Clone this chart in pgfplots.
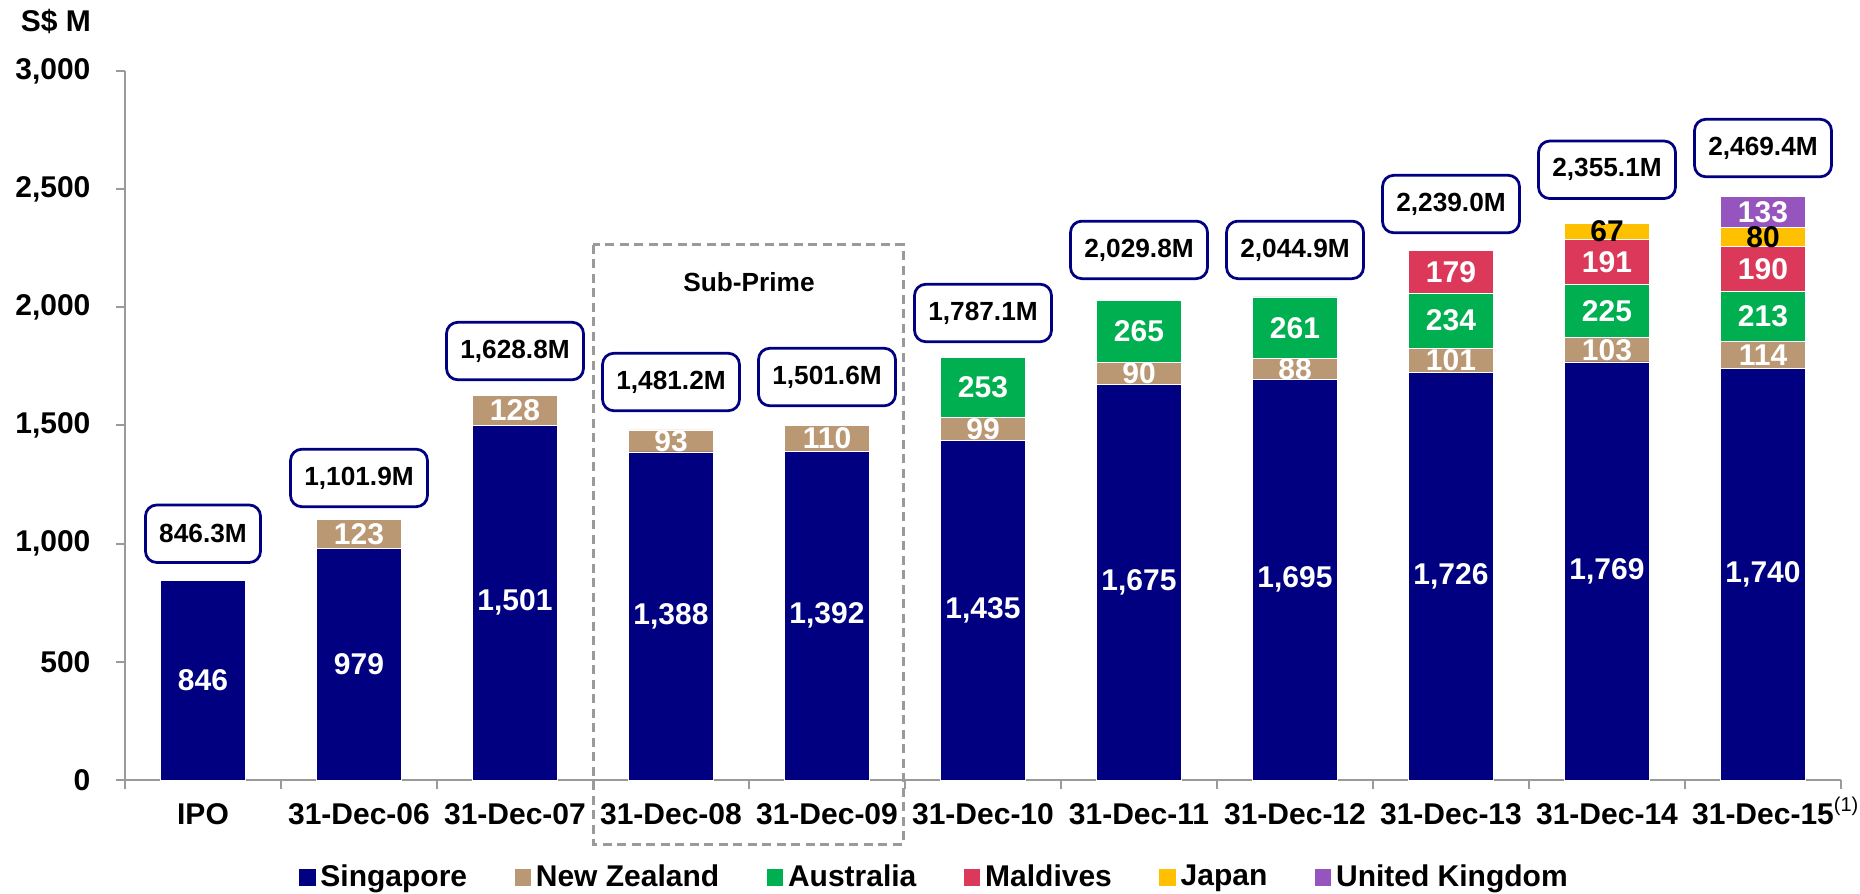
\documentclass[border=0pt]{standalone}
\usepackage{pgfplots}
\pgfplotsset{compat=1.18}
\usepackage{fontspec}
\setmainfont{Liberation Sans}
\definecolor{sgp}{HTML}{000080}
\definecolor{nzl}{HTML}{B99873}
\definecolor{aus}{HTML}{00AF50}
\definecolor{mdv}{HTML}{DC395A}
\definecolor{jpn}{HTML}{FFC000}
\definecolor{gbr}{HTML}{9654BE}
\definecolor{axisgray}{HTML}{9A9A9A}
\definecolor{boxblue}{HTML}{000080}

\begin{document}
\begin{tikzpicture}[font=\bfseries]
\tikzset{big/.style={font=\fontsize{12}{14}\selectfont\bfseries}}
\pgfplotsset{
  ser/.style={fill=#1, draw=white, line width=0.3pt,
    legend image code/.code={\fill[#1] (0pt,-3.3pt) rectangle (6.2pt,3.3pt);}},
}
\begin{axis}[name=main,
  scale only axis, width=686.4pt, height=283.6pt,
  ybar stacked, bar width=34pt,
  xmin=-0.5, xmax=10.5, ymin=0, ymax=3000,
  axis lines*=left,
  axis line style={draw=axisgray, line width=0.8pt},
  tick style={draw=axisgray, line width=0.8pt},
  tick align=outside, major tick length=3.6pt,
  xtick={-0.5,0.5,...,10.5}, xticklabels={},
  extra x ticks={0,...,10},
  extra x tick labels={IPO,31-Dec-06,31-Dec-07,31-Dec-08,31-Dec-09,31-Dec-10,31-Dec-11,31-Dec-12,31-Dec-13,31-Dec-14,31-Dec-15\rlap{\smash{\raisebox{5.5pt}{\fontsize{8}{8}\selectfont\mdseries(1)}}}},
  extra x tick style={major tick length=0pt},
  ytick={0,500,...,3000},
  tick label style={big},
  xticklabel style={yshift=-6pt},
  yticklabel style={xshift=-6.7pt},
  /pgf/number format/assume math mode=true,
  /pgf/number format/1000 sep={,},
  point meta=explicit symbolic,
  nodes near coords,
  every node near coord/.append style={anchor=center, big, text=white},
  legend columns=-1,
  legend style={draw=none, at={(0.4726,-0.1375)}, anchor=center, big,
    /tikz/every even column/.append style={column sep=17pt}},
  clip=false,
]
\addplot[ser=sgp] coordinates {(0,846)[846] (1,979)[979] (2,1501)[1,501] (3,1388)[1,388] (4,1392)[1,392] (5,1435)[1,435] (6,1675)[1,675] (7,1695)[1,695] (8,1726)[1,726] (9,1769)[1,769] (10,1740)[1,740]};
\addplot[ser=nzl] coordinates {(0,0)[] (1,123)[123] (2,128)[128] (3,93)[93] (4,110)[110] (5,99)[99] (6,90)[90] (7,88)[88] (8,101)[101] (9,103)[103] (10,114)[114]};
\addplot[ser=aus] coordinates {(0,0)[] (1,0)[] (2,0)[] (3,0)[] (4,0)[] (5,253)[253] (6,265)[265] (7,261)[261] (8,234)[234] (9,225)[225] (10,213)[213]};
\addplot[ser=mdv] coordinates {(0,0)[] (1,0)[] (2,0)[] (3,0)[] (4,0)[] (5,0)[] (6,0)[] (7,0)[] (8,179)[179] (9,191)[191] (10,190)[190]};
\addplot[ser=jpn, every node near coord/.append style={text=black}] coordinates {(0,0)[] (1,0)[] (2,0)[] (3,0)[] (4,0)[] (5,0)[] (6,0)[] (7,0)[] (8,0)[] (9,67)[67] (10,80)[80]};
\addplot[ser=gbr] coordinates {(0,0)[] (1,0)[] (2,0)[] (3,0)[] (4,0)[] (5,0)[] (6,0)[] (7,0)[] (8,0)[] (9,0)[] (10,133)[133]};
\legend{Singapore,New Zealand,Australia,Maldives,Japan,United Kingdom}
\draw[axisgray, line width=1.2pt, dash pattern=on 3.6pt off 2.2pt] (axis cs:2.5,2264) rectangle (axis cs:4.49,-271);
\node[font=\fontsize{10.5}{12}\selectfont\bfseries] at (axis cs:3.5,2107) {Sub-Prime};
\node[anchor=west, xshift=-45.2pt, big] at (rel axis cs:0,1.0705) {S\$ M};
\end{axis}
\begin{axis}[at={(main.south west)}, anchor=south west,
  scale only axis, width=686.4pt, height=283.6pt,
  xmin=-0.5, xmax=10.5, ymin=0, ymax=3000, hide axis, clip=false]
\addplot[draw=none, mark=none, nodes near coords, point meta=explicit symbolic,
  every node near coord/.style={draw=boxblue, line width=1.1pt, rounded corners=4.5pt,
    fill=white, text=black, anchor=center, inner xsep=5.5pt, minimum height=23pt,
    font=\fontsize{10.5}{12}\selectfont\bfseries}]
  coordinates {(0,1042)[846.3M] (1,1278)[1,101.9M] (2,1815)[1,628.8M] (3,1684)[1,481.2M] (4,1705)[1,501.6M] (5,1976)[1,787.1M] (6,2243)[2,029.8M] (7,2243)[2,044.9M] (8,2437)[2,239.0M] (9,2582)[2,355.1M] (10,2674)[2,469.4M]};
\end{axis}
\pgfresetboundingbox
\path ([xshift=-50pt,yshift=-45.6pt]main.south west) rectangle ([xshift=694pt,yshift=312pt]main.south west);
\end{tikzpicture}
\end{document}
